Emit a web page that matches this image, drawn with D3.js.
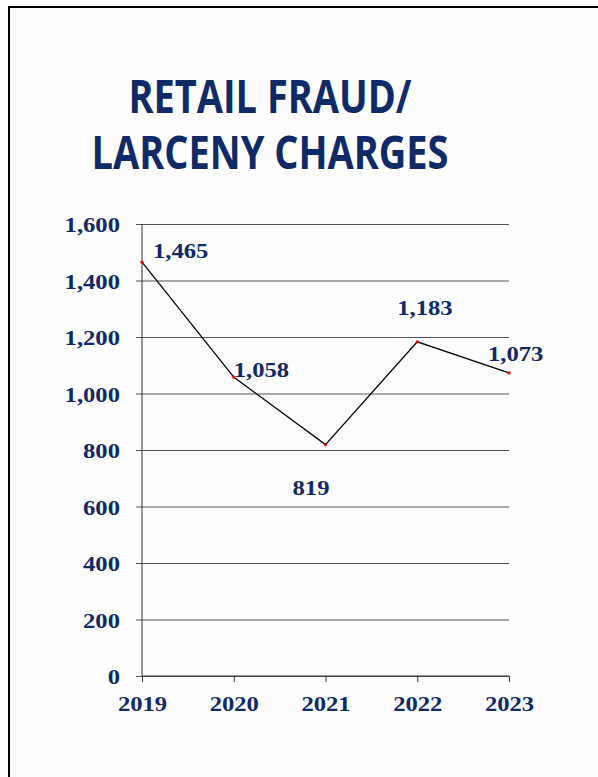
<!DOCTYPE html>
<html>
<head>
<meta charset="utf-8">
<script src="https://cdn.jsdelivr.net/npm/d3@7"></script>
<style>
  html, body { margin: 0; padding: 0; background: #fdfdfd; }
  svg { display: block; }
</style>
</head>
<body>
<div id="chart"></div>
<script>
// chart data
const years = ["2019", "2020", "2021", "2022", "2023"];
const charges = [1465, 1058, 819, 1183, 1073];
const yTicks = [0, 200, 400, 600, 800, 1000, 1200, 1400, 1600];
const titleLines = ["RETAIL FRAUD/", "LARCENY CHARGES"];

const W = 598, H = 777;
const NAVY = "#0f2a66";
const SERIF = "'Liberation Serif', 'Times New Roman', serif";

const svg = d3.select("#chart").append("svg")
    .attr("width", W).attr("height", H);

svg.append("rect").attr("width", W).attr("height", H).attr("fill", "#fdfdfd");

// frame: top and left edges only
svg.append("path")
    .attr("d", `M${W} 7 L9 7 L9 ${H}`)
    .attr("fill", "none")
    .attr("stroke", "#000")
    .attr("stroke-width", 2);

// title (condensed to fit like the original face)
const titleWidths = [283, 357];
svg.append("text")
    .attr("x", 270).attr("y", 113)
    .attr("text-anchor", "middle")
    .attr("font-family", "'Open Sans', sans-serif")
    .attr("font-weight", 700)
    .attr("font-size", 46)
    .attr("fill", NAVY)
    .selectAll("tspan").data(titleLines).join("tspan")
    .attr("x", 270)
    .attr("dy", (d, i) => i ? 56 : 0)
    .attr("textLength", (d, i) => titleWidths[i])
    .attr("lengthAdjust", "spacingAndGlyphs")
    .text(d => d);

// slightly wide bold serif, as in the source
function widen(sel) {
    sel.each(function () {
        const w = this.getComputedTextLength();
        d3.select(this).attr("textLength", w * 1.12).attr("lengthAdjust", "spacingAndGlyphs");
    });
}

const x = d3.scalePoint().domain(years).range([142, 509]);
const y = d3.scaleLinear().domain([0, 1600]).range([676, 224]);

// gridlines + y axis
const yAxis = svg.append("g")
    .attr("transform", "translate(142,0)")
    .call(d3.axisLeft(y).tickValues(yTicks).tickSize(6).tickPadding(16)
        .tickFormat(d3.format(",")));
yAxis.select(".domain").remove();
yAxis.selectAll(".tick line").attr("stroke", "#555");
yAxis.selectAll(".tick").append("line")
    .attr("x1", 0).attr("x2", 509 - 142)
    .attr("stroke", "#555").attr("stroke-width", 1);
yAxis.selectAll("text")
    .attr("font-family", SERIF)
    .attr("font-weight", 700)
    .attr("font-size", 22)
    .attr("fill", NAVY)
    .attr("dy", "0.35em")
    .call(widen);

// vertical axis line
svg.append("line")
    .attr("x1", 142).attr("x2", 142)
    .attr("y1", y(1600)).attr("y2", y(0))
    .attr("stroke", "#333");

// x axis
const xAxis = svg.append("g")
    .attr("transform", `translate(0,${y(0)})`)
    .call(d3.axisBottom(x).tickSize(6).tickPadding(10));
xAxis.select(".domain").attr("d", `M142,0H509`).attr("stroke", "#333");
xAxis.selectAll(".tick line").attr("stroke", "#333");
xAxis.selectAll("text")
    .attr("font-family", SERIF)
    .attr("font-weight", 700)
    .attr("font-size", 22)
    .attr("fill", NAVY)
    .attr("y", 35).attr("dy", 0)
    .call(widen);

const pts = years.map((yr, i) => ({ yr, v: charges[i] }));

svg.append("path")
    .datum(pts)
    .attr("fill", "none")
    .attr("stroke", "#000")
    .attr("stroke-width", 1.3)
    .attr("d", d3.line().x(d => x(d.yr)).y(d => y(d.v)));

svg.selectAll("circle.pt").data(pts).join("circle")
    .attr("class", "pt")
    .attr("cx", d => x(d.yr)).attr("cy", d => y(d.v))
    .attr("r", 1.6).attr("fill", "#e00");

// hand-placed labels (offsets from each point)
const labelNudge = [[11, -4], [0, 0], [-33, 50], [-20, -27], [-21, -12]];
svg.selectAll("text.lbl").data(pts).join("text")
    .attr("class", "lbl")
    .attr("x", (d, i) => x(d.yr) + labelNudge[i][0])
    .attr("y", (d, i) => y(d.v) + labelNudge[i][1])
    .attr("font-family", SERIF)
    .attr("font-weight", 700)
    .attr("font-size", 22)
    .attr("fill", NAVY)
    .text(d => d3.format(",")(d.v))
    .call(widen);
</script>
</body>
</html>
